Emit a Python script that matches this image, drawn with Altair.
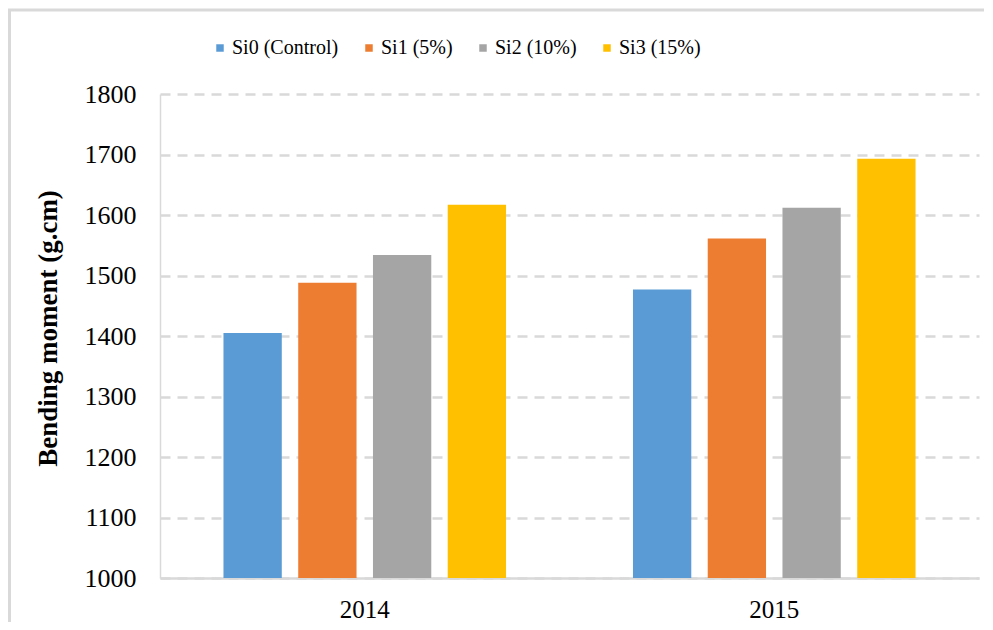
import altair as alt
import pandas as pd

years = ["2014", "2015"]
series = ["Si0 (Control)", "Si1 (5%)", "Si2 (10%)", "Si3 (15%)"]
values_2014 = [1405, 1488, 1534, 1617]
values_2015 = [1477, 1561, 1612, 1693]
colors = ["#5B9BD5", "#ED7D31", "#A5A5A5", "#FFC000"]
y_ticks = [1000, 1100, 1200, 1300, 1400, 1500, 1600, 1700, 1800]

rows = []
for yr, vals in zip(years, [values_2014, values_2015]):
    for s, v in zip(series, vals):
        rows.append({"year": yr, "series": s, "value": v})
df = pd.DataFrame(rows)

FONT = "Liberation Serif"
W, H = 819, 484

bars = alt.Chart(df).mark_bar(clip=True).encode(
    x=alt.X("year:N", sort=years,
            scale=alt.Scale(paddingInner=0.31, paddingOuter=0.155),
            axis=alt.Axis(title=None, labelAngle=0, labelFont=FONT, labelFontSize=25,
                          labelColor="#000000", labelPadding=19, ticks=False,
                          domainColor="#d9d9d9", domainWidth=2.5)),
    xOffset=alt.XOffset("series:N", sort=series,
                        scale=alt.Scale(paddingInner=0.22, paddingOuter=0)),
    y=alt.Y("value:Q", scale=alt.Scale(domain=[1000, 1800], zero=False, nice=False),
            axis=alt.Axis(values=y_ticks, format="d", title="Bending moment (g.cm)",
                          titleFont=FONT, titleFontSize=27, titleFontWeight="bold",
                          titleColor="#000000", titleX=-112, titleY=234,
                          titleBaseline="middle", titleAlign="center", titleAngle=-90,
                          labelFont=FONT, labelFontSize=26, labelColor="#000000",
                          labelPadding=24, ticks=False, domainColor="#d9d9d9",
                          domainWidth=1.5, grid=True, gridColor="#d9d9d9",
                          gridDash=[10, 7], gridWidth=2.5)),
    color=alt.Color("series:N", sort=series,
                    scale=alt.Scale(domain=series, range=colors),
                    legend=alt.Legend(title=None, orient="none", direction="horizontal",
                                      legendX=50, legendY=-56, symbolType="square",
                                      symbolSize=56, symbolStrokeWidth=0,
                                      labelFont=FONT, labelFontSize=20,
                                      labelColor="#000000", labelOffset=2,
                                      columnPadding=20)),
)

frame = alt.Data(values=[{"k": 1}])
top_line = alt.Chart(frame).mark_rule(color="#d9d9d9", strokeWidth=3).encode(
    x=alt.value(-152), x2=alt.value(W + 10), y=alt.value(-84))
left_line = alt.Chart(frame).mark_rule(color="#d9d9d9", strokeWidth=3).encode(
    x=alt.value(-150.5), y=alt.value(-85), y2=alt.value(H + 50))

chart = alt.layer(bars, top_line, left_line).properties(
    width=W, height=H,
    autosize=alt.AutoSizeParams(type="none"),
    padding={"left": 152, "top": 86, "right": 5, "bottom": 44},
).configure(background="white").configure_view(stroke=None)

chart.save("out.html", embed_options={"renderer": "svg", "actions": False})
